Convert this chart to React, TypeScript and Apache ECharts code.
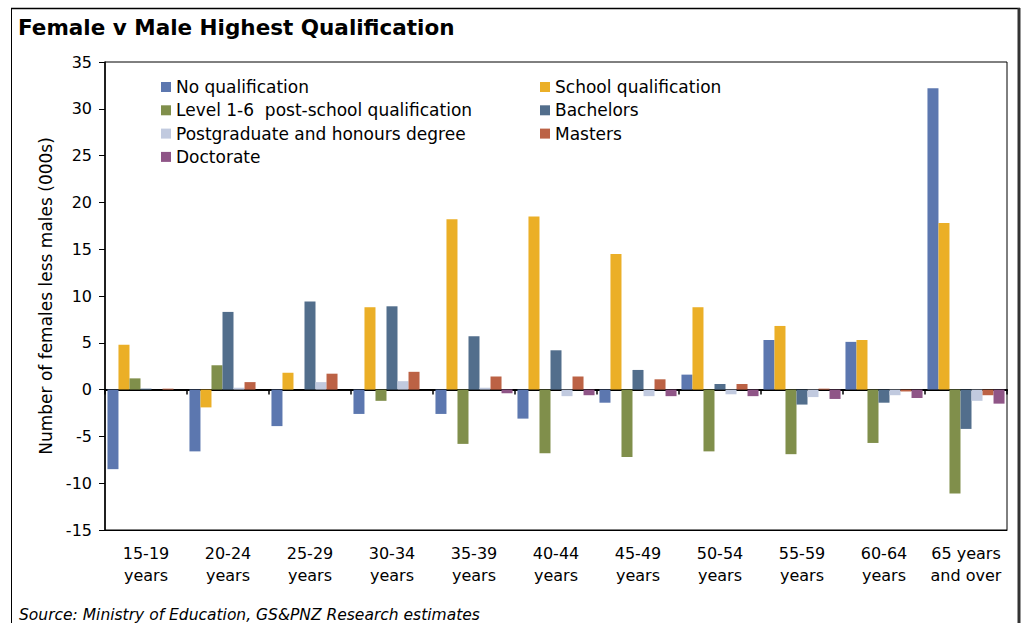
import React, { useEffect, useRef } from "react";
import * as echarts from "echarts";

const categories = [
  "15-19\nyears", "20-24\nyears", "25-29\nyears", "30-34\nyears", "35-39\nyears",
  "40-44\nyears", "45-49\nyears", "50-54\nyears", "55-59\nyears", "60-64\nyears", "65 years\nand over",
];

const noQualification = [-8.5, -6.6, -3.9, -2.6, -2.6, -3.1, -1.4, 1.6, 5.3, 5.1, 32.2];
const schoolQualification = [4.8, -1.9, 1.8, 8.8, 18.2, 18.5, 14.5, 8.8, 6.8, 5.3, 17.8];
const level16 = [1.2, 2.6, 0, -1.2, -5.8, -6.8, -7.2, -6.6, -6.9, -5.7, -11.1];
const bachelors = [0.1, 8.3, 9.4, 8.9, 5.7, 4.2, 2.1, 0.6, -1.6, -1.4, -4.2];
const postgraduate = [0, 0.2, 0.8, 0.9, 0.2, -0.7, -0.7, -0.5, -0.8, -0.6, -1.2];
const masters = [0.1, 0.8, 1.7, 1.9, 1.4, 1.4, 1.1, 0.6, 0.1, -0.2, -0.6];
const doctorate = [0, 0, 0, 0, -0.4, -0.6, -0.7, -0.7, -1.0, -0.9, -1.5];

const yTicks = { min: -15, max: 35, interval: 5 };

const seriesDefs = [
  { name: "No qualification", data: noQualification, color: "#5C77AF" },
  { name: "School qualification", data: schoolQualification, color: "#EBAF27" },
  { name: "Level 1-6  post-school qualification", data: level16, color: "#808F4B" },
  { name: "Bachelors", data: bachelors, color: "#526E8C" },
  { name: "Postgraduate and honours degree", data: postgraduate, color: "#C1CADF" },
  { name: "Masters", data: masters, color: "#BC6245" },
  { name: "Doctorate", data: doctorate, color: "#8F5587" },
];

const FONT = "'DejaVu Sans', Verdana, sans-serif";

export default function App() {
  const ref = useRef<HTMLDivElement>(null);
  useEffect(() => {
    if (!ref.current) return;
    const chart = echarts.init(ref.current, null, { renderer: "svg" });
    const legendText = { fontSize: 17, fontFamily: FONT, color: "#000", lineHeight: 18 };
    chart.setOption({
      animation: false,
      backgroundColor: "#fff",
      title: {
        text: "Female v Male Highest Qualification",
        left: 13,
        top: 11,
        textStyle: { fontSize: 21.5, fontWeight: "bold", fontFamily: FONT, color: "#000" },
      },
      legend: [
        {
          orient: "vertical",
          left: 156,
          top: 73,
          itemWidth: 10,
          itemHeight: 10,
          itemGap: 5.3,
          icon: "rect",
          textStyle: legendText,
          data: [seriesDefs[0].name, seriesDefs[2].name, seriesDefs[4].name, seriesDefs[6].name],
        },
        {
          orient: "vertical",
          left: 535,
          top: 73,
          itemWidth: 10,
          itemHeight: 10,
          itemGap: 5.3,
          icon: "rect",
          textStyle: legendText,
          data: [seriesDefs[1].name, seriesDefs[3].name, seriesDefs[5].name],
        },
      ],
      grid: { left: 105, right: 17, top: 62, bottom: 93, show: true, borderColor: "#000", borderWidth: 1 },
      xAxis: [
        {
          type: "category",
          data: categories,
          axisLine: { onZero: true, lineStyle: { color: "#000", width: 2 } },
          axisTick: { show: true, length: 5, lineStyle: { color: "#000", width: 1.5 } },
          axisLabel: { show: false },
        },
        {
          type: "category",
          data: categories,
          position: "bottom",
          axisLine: { onZero: false, lineStyle: { color: "#000", width: 1 } },
          axisTick: { show: false },
          axisLabel: { interval: 0, fontSize: 16, fontFamily: FONT, color: "#000", lineHeight: 22, margin: 12 },
        },
      ],
      yAxis: {
        type: "value",
        min: yTicks.min,
        max: yTicks.max,
        interval: yTicks.interval,
        name: "Number of females less males (000s)",
        nameLocation: "middle",
        nameGap: 50,
        nameTextStyle: { fontSize: 17, fontFamily: FONT, color: "#000" },
        axisLine: { show: true, lineStyle: { color: "#000", width: 1.5 } },
        axisTick: { show: true, length: 6, lineStyle: { color: "#000" } },
        axisLabel: { fontSize: 16, fontFamily: FONT, color: "#000", margin: 13 },
        splitLine: { show: false },
      },
      series: seriesDefs.map((s) => ({
        name: s.name,
        type: "bar",
        xAxisIndex: 0,
        data: s.data,
        itemStyle: { color: s.color },
        barGap: "0%",
        barCategoryGap: "6%",
      })),
      graphic: [
        { type: "line", shape: { x1: 11, y1: 8.5, x2: 1020, y2: 8.5 }, style: { stroke: "#000", lineWidth: 1.5 } },
        { type: "line", shape: { x1: 11.5, y1: 8, x2: 11.5, y2: 623 }, style: { stroke: "#000", lineWidth: 1 } },
        { type: "line", shape: { x1: 1019, y1: 8, x2: 1019, y2: 623 }, style: { stroke: "#333", lineWidth: 3 } },
        {
          type: "text",
          left: 19,
          top: 607,
          style: {
            text: "Source: Ministry of Education, GS&PNZ Research estimates",
            fontSize: 15.5,
            fontStyle: "italic",
            fontFamily: FONT,
            fill: "#000",
          },
        },
      ],
    });
    return () => chart.dispose();
  }, []);
  return <div ref={ref} style={{ position: "absolute", left: 0, top: 0, width: 1024, height: 623 }} />;
}
